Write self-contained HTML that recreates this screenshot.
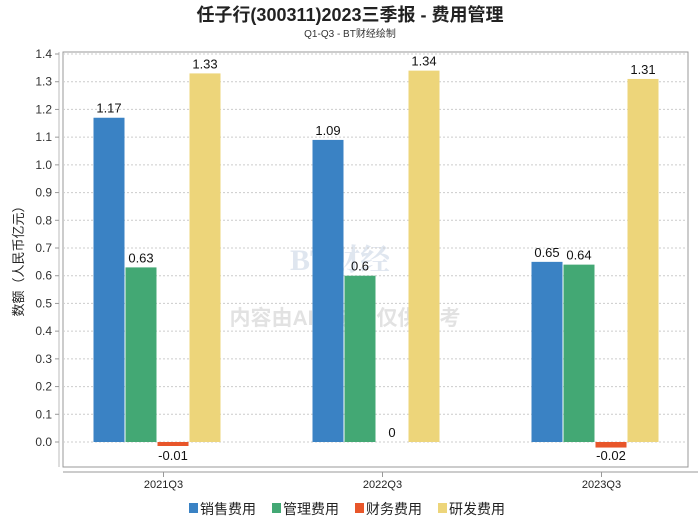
<!DOCTYPE html>
<html><head><meta charset="utf-8"><style>
body{margin:0;background:#fff;width:700px;height:524px;overflow:hidden;font-family:"Liberation Sans","Noto Sans CJK SC",sans-serif}
</style></head><body>
<svg id="c" width="700" height="524" xmlns="http://www.w3.org/2000/svg">
<text x="350" y="21" text-anchor="middle" font-size="18" font-weight="bold" fill="#222" font-family="Liberation Sans, Noto Sans CJK SC, sans-serif">任子行(300311)2023三季报 - 费用管理</text>
<text x="350" y="37" text-anchor="middle" font-size="10" fill="#333">Q1-Q3 - BT财经绘制</text>
<rect x="63" y="52" width="625" height="415" fill="none" stroke="#999" stroke-width="1"/>
<line x1="59" y1="52" x2="59" y2="467" stroke="#bbb"/>
<line x1="63" y1="472" x2="698" y2="472" stroke="#bbb" stroke-width="1.5"/>
<text transform="translate(23,258) rotate(-90)" text-anchor="middle" font-size="13" fill="#222">数额（人民币亿元）</text>
<g opacity="0.18">
<text x="340" y="270" text-anchor="middle" font-size="30" font-weight="bold" fill="#5577aa" font-family="Liberation Serif, Noto Serif CJK SC, serif">BT财经</text>
<text x="345" y="325" text-anchor="middle" font-size="21" font-weight="bold" fill="#666">内容由AI生成，仅供参考</text>
</g>
<g id="g"></g>
<g font-size="14" fill="#222">
<rect x="189" y="503" width="9" height="10" fill="#3a82c4"/><text x="200" y="514">销售费用</text>
<rect x="272" y="503" width="9" height="10" fill="#43a874"/><text x="283" y="514">管理费用</text>
<rect x="355" y="503" width="9" height="10" fill="#e8562a"/><text x="366" y="514">财务费用</text>
<rect x="438" y="503" width="9" height="10" fill="#edd57a"/><text x="449" y="514">研发费用</text>
</g>
</svg>
<script>
const categories=["2021Q3","2022Q3","2023Q3"];
const sales=[1.17,1.09,0.65];
const admin=[0.63,0.6,0.64];
const finance=[-0.01,0,-0.02];
const rd=[1.33,1.34,1.31];
const yTicks=[0,0.1,0.2,0.3,0.4,0.5,0.6,0.7,0.8,0.9,1.0,1.1,1.2,1.3,1.4];
const series=[sales,admin,finance,rd];
const names=["sales","admin","finance","rd"];
const colors=["#3a82c4","#43a874","#e8562a","#edd57a"];
const NS="http://www.w3.org/2000/svg";
const g=document.getElementById('g');
function y(v){return 442-v*277.14;}
function x(i){return 156.5+i*219;}
function mk(t,a){const e=document.createElementNS(NS,t);for(const k in a)e.setAttribute(k,a[k]);g.appendChild(e);return e;}
yTicks.forEach(v=>{
 const l=mk('line',{x1:63,x2:688,y1:y(v),y2:y(v),stroke:'#ccc','stroke-dasharray':'2,2'});
 
 
 const tk=mk('line',{x1:55,x2:59,y1:y(v),y2:y(v),stroke:'#999'});
 
 
 const t=mk('text',{x:52,y:y(v)+4,'text-anchor':'end','font-size':12,fill:'#333'});
 t.textContent=v.toFixed(1);
 
 
});
categories.forEach((c,i)=>{
 const tk=mk('line',{x1:x(i)+7,x2:x(i)+7,y1:472,y2:477,stroke:'#999'});
 
 
 const t=mk('text',{x:x(i)+7,y:488,'text-anchor':'middle','font-size':11,fill:'#222'});
 t.textContent=c;
 
 
 series.forEach((s,j)=>{
  const v=s[i];const bx=x(i)-63+j*32;const w=31;
  const top=Math.min(y(v),y(0));let h=Math.abs(y(v)-y(0));
  if(v!==0){
   if(h<4)h=4;
   const r=mk('rect',{x:bx,y:top,width:w,height:h,fill:colors[j]});
   
   
  }
  const ly=v>0?y(v)-5:(v<0?y(0)+18:y(0)-5);
  const lt=mk('text',{x:bx+w/2,y:ly,'text-anchor':'middle','font-size':13,fill:'#111'});
  lt.textContent=String(v);
  
  
 });
});
</script>
</body></html>
